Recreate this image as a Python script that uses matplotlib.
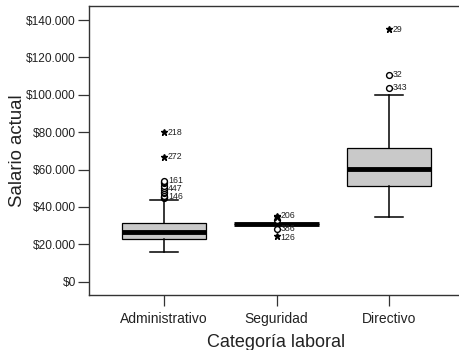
import matplotlib
matplotlib.use("Agg")
import matplotlib.pyplot as plt
from matplotlib.ticker import FuncFormatter

plt.rcParams['font.family'] = ['Liberation Sans', 'DejaVu Sans']

categories = ["Administrativo", "Seguridad", "Directivo"]
q1 = [22800, 30750, 51450]
median = [26550, 30750, 60500]
q3 = [31500, 30750, 71600]
whisker_low = [15750, 30750, 34410]
whisker_high = [43950, 30750, 100000]

# outliers (circles) and extremes (stars) per category
circle_vals = [
    [45000, 45250, 45500, 46000, 47550, 48000, 49000, 50000, 51000, 52650, 53500, 54000],
    [33000, 28000],
    [103750, 110625],
]
star_vals = [
    [66875, 80000],
    [35250, 34500, 24300],
    [135000],
]
# case labels: (category index, value, text)
case_labels = [
    (0, 80000, "218"), (0, 66875, "272"), (0, 54000, "161"),
    (0, 50000, "447"), (0, 45500, "146"),
    (1, 35250, "206"), (1, 28300, "386"), (1, 23700, "126"),
    (2, 135000, "29"), (2, 110625, "32"), (2, 103750, "343"),
]

y_ticks = [0, 20000, 40000, 60000, 80000, 100000, 120000, 140000]

fig = plt.figure(figsize=(4.6, 3.5), dpi=100)
ax = fig.add_axes([89 / 460, 55 / 350, 375 / 460, 289 / 350])

positions = [1, 2, 3]
stats = []
for i, name in enumerate(categories):
    stats.append(dict(label=name, med=median[i], q1=q1[i], q3=q3[i],
                      whislo=whisker_low[i], whishi=whisker_high[i], fliers=[]))

ax.bxp(stats, positions=positions, widths=0.75, patch_artist=True,
       showfliers=False,
       boxprops=dict(facecolor="#c9c9c9", edgecolor="black", linewidth=0.9),
       medianprops=dict(color="black", linewidth=3.5, solid_capstyle="butt"),
       whiskerprops=dict(color="black", linewidth=1.1),
       capprops=dict(color="black", linewidth=1.1),
       capwidths=0.25)

for i, p in enumerate(positions):
    if circle_vals[i]:
        ax.plot([p] * len(circle_vals[i]), circle_vals[i], linestyle="none",
                marker="o", markersize=4.2, markerfacecolor="white",
                markeredgecolor="black", markeredgewidth=1.0, zorder=4)
    if star_vals[i]:
        ax.plot([p] * len(star_vals[i]), star_vals[i], linestyle="none",
                marker="*", markersize=4.5, color="black", zorder=4)

for i, v, txt in case_labels:
    ax.text(positions[i] + 0.035, v, txt, fontsize=6.3, va="center",
            ha="left", color="#222222", zorder=5)

ax.set_xlim(1 / 3, 3 + 2 / 3)
ax.set_ylim(-7100, 147500)
ax.set_yticks(y_ticks)
ax.yaxis.set_major_formatter(
    FuncFormatter(lambda v, _: "$" + f"{int(v):,}".replace(",", ".")))
ax.set_xticks(positions)
ax.set_xticklabels(categories, fontsize=10)
ax.tick_params(axis="y", labelsize=8.6, length=8, width=0.9, pad=1.5,
               colors="#333333", labelcolor="#222222")
ax.tick_params(axis="x", length=8, width=0.9, pad=4, colors="#333333",
               labelcolor="#222222")

for side in ["left", "bottom", "top"]:
    ax.spines[side].set_color("#333333")
    ax.spines[side].set_linewidth(1.0)
ax.spines["right"].set_visible(False)

ax.set_ylabel("Salario actual", fontsize=13.4, color="#222222", labelpad=0)
ax.set_xlabel("Categoría laboral", fontsize=13, color="#222222", labelpad=6)

fig.savefig("out.png", dpi=100)
